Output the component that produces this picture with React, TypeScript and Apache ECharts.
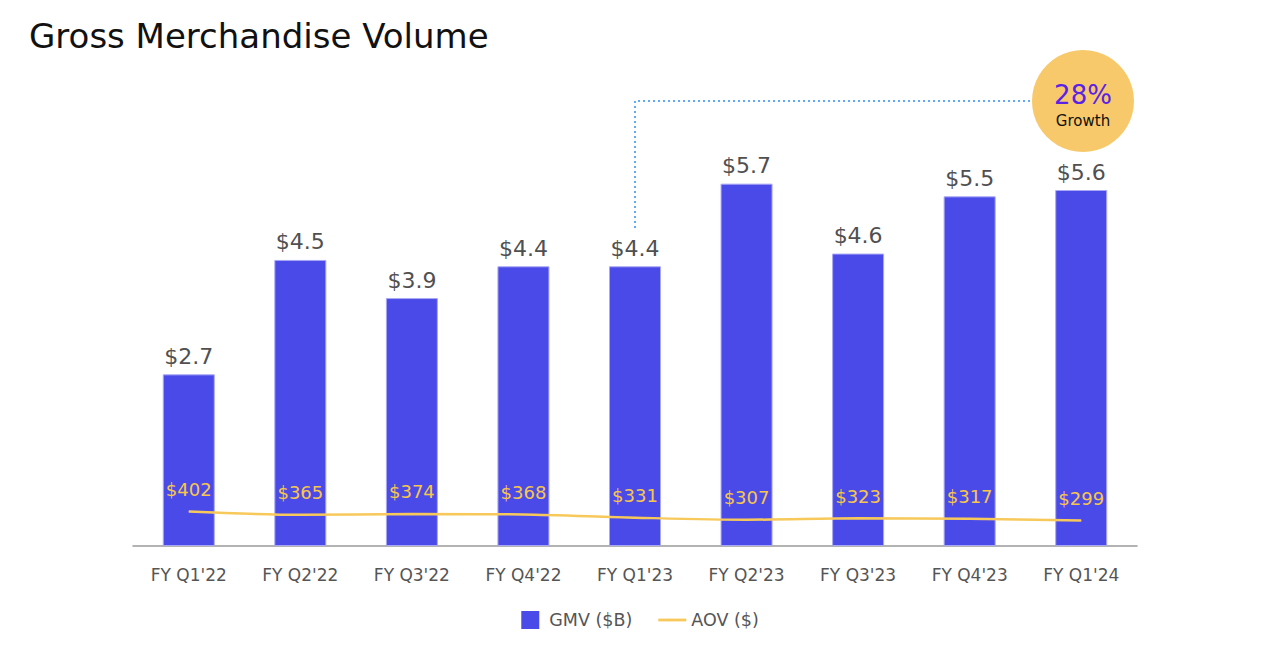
import React, { useEffect, useRef } from "react";
import * as echarts from "echarts";

const categories = ["FY Q1'22", "FY Q2'22", "FY Q3'22", "FY Q4'22", "FY Q1'23", "FY Q2'23", "FY Q3'23", "FY Q4'23", "FY Q1'24"];
const gmv = [2.7, 4.5, 3.9, 4.4, 4.4, 5.7, 4.6, 5.5, 5.6];
const aov = [402, 365, 374, 368, 331, 307, 323, 317, 299];
const growthValue = "28%";
const growthLabel = "Growth";

const FONT = "'DejaVu Sans', 'Noto Sans', sans-serif";
const YELLOW = "#f7c95a";

export default function App() {
  const ref = useRef<HTMLDivElement>(null);
  useEffect(() => {
    if (!ref.current) return;
    const chart = echarts.init(ref.current, null, { renderer: "svg" });
    chart.setOption({
      animation: false,
      backgroundColor: "#ffffff",
      title: {
        text: "Gross Merchandise Volume",
        left: 24,
        top: 14,
        textStyle: { fontFamily: FONT, fontSize: 34, fontWeight: "normal", color: "#111" },
      },
      grid: { left: 133, right: 143, top: 101, height: 445 },
      legend: {
        bottom: 14,
        left: "center",
        itemGap: 26,
        itemWidth: 28,
        itemHeight: 18,
        textStyle: { fontFamily: FONT, fontSize: 17.5, color: "#555" },
        data: [
          { name: "GMV ($B)", icon: "path://M5,0H23V18H5Z", itemStyle: { borderWidth: 0 } },
          { name: "AOV ($)", icon: "path://M0,0H30V3H0Z", itemStyle: { color: YELLOW, opacity: 1 } },
        ],
      },
      xAxis: {
        type: "category",
        data: categories,
        axisLine: { lineStyle: { color: "#9a9a9a", width: 1.5 } },
        axisTick: { show: false },
        axisLabel: { fontFamily: FONT, fontSize: 17, color: "#555", margin: 20 },
      },
      yAxis: [
        { type: "value", min: 0, max: 7, show: false, splitLine: { show: false } },
        { type: "value", min: 0, max: 5200, show: false, splitLine: { show: false } },
      ],
      series: [
        {
          name: "GMV ($B)",
          type: "bar",
          data: gmv,
          barWidth: 52,
          z: 2,
          itemStyle: { color: "#4a4ae8", borderColor: "#a8a8f4", borderWidth: 1 },
          label: {
            show: true,
            position: "top",
            distance: 7,
            formatter: (p: any) => "$" + p.value.toFixed(1),
            fontFamily: FONT,
            fontSize: 22,
            color: "#505050",
          },
        },
        {
          name: "AOV ($)",
          type: "line",
          yAxisIndex: 1,
          data: aov,
          smooth: 0.3,
          symbol: "circle",
          symbolSize: 0.5,
          showSymbol: true,
          z: 3,
          lineStyle: { color: YELLOW, width: 2.5 },
          itemStyle: { color: YELLOW },
          label: {
            show: true,
            position: "top",
            distance: 13,
            formatter: (p: any) => "$" + p.value,
            fontFamily: FONT,
            fontSize: 18,
            color: "#f8c64a",
          },
        },
      ],
      graphic: [
        {
          type: "polyline",
          shape: { points: [[635, 228], [635, 101], [1034, 101]] },
          style: { stroke: "#2f8ef0", lineWidth: 1.5, lineDash: [2, 3], fill: null },
          z: 1,
        },
        {
          type: "circle",
          shape: { cx: 1083, cy: 101, r: 51 },
          style: { fill: "#f7c96b" },
          z: 2,
        },
        {
          type: "text",
          x: 1083,
          y: 95,
          style: {
            text: growthValue,
            fontFamily: FONT,
            fontSize: 26,
            fill: "#5a22e6",
            align: "center",
            verticalAlign: "middle",
          },
          z: 3,
        },
        {
          type: "text",
          x: 1083,
          y: 121,
          style: {
            text: growthLabel,
            fontFamily: FONT,
            fontSize: 15,
            fill: "#111",
            align: "center",
            verticalAlign: "middle",
          },
          z: 3,
        },
      ],
    });
    return () => chart.dispose();
  }, []);
  return (
    <div
      ref={ref}
      style={{ position: "fixed", left: 0, top: 0, width: 1280, height: 648, background: "#fff" }}
    />
  );
}
